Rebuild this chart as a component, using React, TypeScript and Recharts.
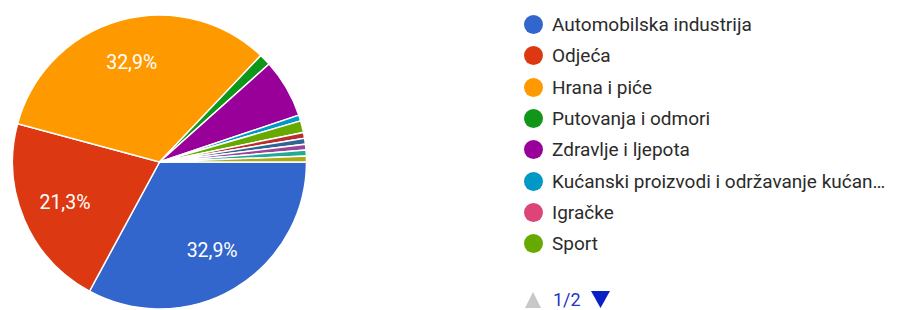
import React from "react";
import { PieChart, Pie, Cell } from "recharts";

const categories = [
  "Automobilska industrija",
  "Odjeća",
  "Hrana i piće",
  "Putovanja i odmori",
  "Zdravlje i ljepota",
  "Kućanski proizvodi i održavanje kućanstva",
  "Igračke",
  "Sport",
  "Tehnologija",
  "Financije",
  "Kultura",
  "Obrazovanje",
  "Ostalo",
];
const counts = [51, 33, 51, 2, 10, 1, 0, 2, 1, 1, 1, 1, 1];
const colors = [
  "#3366cc", "#dc3912", "#ff9900", "#109618", "#990099", "#0099c6",
  "#dd4477", "#66aa00", "#b82e2e", "#316395", "#994499", "#22aa99", "#aaaa11",
];
const legendVisibleCount = 8;
const pagerText = "1/2";

const data = categories.map((name, i) => ({ name, value: counts[i] }));

const RADIAN = Math.PI / 180;
const renderLabel = (props: any) => {
  const { cx, cy, midAngle, outerRadius, percent } = props;
  if (percent < 0.1) return null;
  const r = outerRadius * 0.7;
  const x = cx + r * Math.cos(-midAngle * RADIAN);
  const y = cy + r * Math.sin(-midAngle * RADIAN);
  const txt = (percent * 100).toFixed(1).replace(".", ",") + "%";
  return (
    <text x={x} y={y} fill="#ffffff" textAnchor="middle" dominantBaseline="central"
      style={{ fontFamily: "Roboto, Arial, sans-serif", fontSize: 19.5 }}>
      {txt}
    </text>
  );
};

const truncate = (s: string) => (s.length > 38 ? s.slice(0, 37) + "…" : s);

const LegendBox = () => (
  <div style={{ position: "absolute", left: 524, top: 9, width: 383, fontFamily: "Roboto, Arial, sans-serif", fontSize: 19, color: "#2b2b2b" }}>
    {data.slice(0, legendVisibleCount).map((d, i) => (
      <div key={d.name} style={{ display: "flex", alignItems: "center", height: 31.3 }}>
        <span style={{ width: 19, height: 19, borderRadius: "50%", background: colors[i], display: "inline-block", marginRight: 9, flex: "none" }} />
        <span style={{ whiteSpace: "nowrap" }}>{truncate(d.name)}</span>
      </div>
    ))}
  </div>
);

const Pager = () => (
  <div style={{ position: "absolute", left: 525, top: 290, height: 19, display: "flex", alignItems: "center", fontFamily: "Roboto, Arial, sans-serif", lineHeight: "19px" }}>
    <svg width={16} height={16} style={{ marginRight: 12 }}>
      <polygon points="0,16 8,0 16,16" fill="#c8c8c8" />
    </svg>
    <span style={{ color: "#2233cc", fontSize: 18 }}>{pagerText}</span>
    <svg width={19} height={17} style={{ marginLeft: 10 }}>
      <polygon points="0,0 19,0 9.5,17" fill="#0a1fc4" />
    </svg>
  </div>
);

export default function App() {
  return (
    <div style={{ position: "absolute", left: 0, top: 0, width: 907, height: 310, background: "#fff", overflow: "hidden" }}>
      <PieChart width={907} height={310} margin={{ top: 0, right: 0, bottom: 0, left: 0 }}>
        <Pie
          data={data}
          dataKey="value"
          nameKey="name"
          cx={159.5}
          cy={162}
          outerRadius={147}
          startAngle={0}
          endAngle={-360}
          stroke="#ffffff"
          strokeWidth={1.5}
          label={renderLabel}
          labelLine={false}
          isAnimationActive={false}
        >
          {data.map((d, i) => (
            <Cell key={d.name} fill={colors[i]} />
          ))}
        </Pie>
      </PieChart>
      <LegendBox />
      <Pager />
    </div>
  );
}
